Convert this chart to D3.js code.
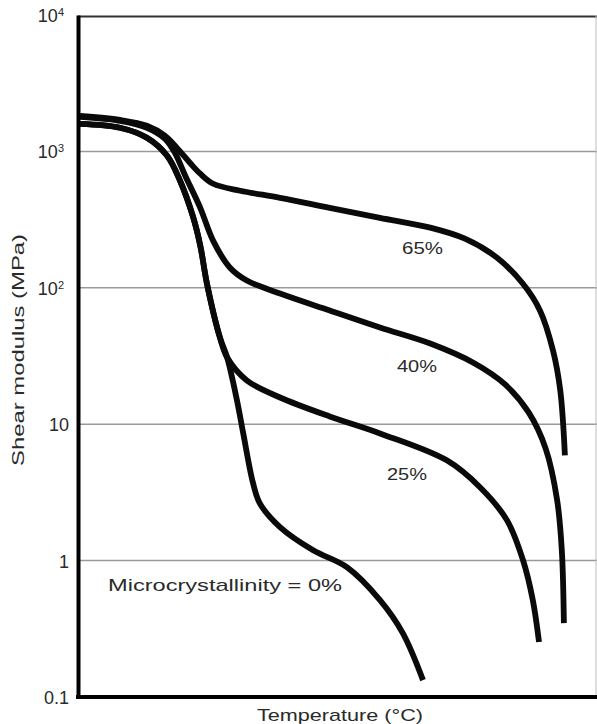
<!DOCTYPE html>
<html>
<head>
<meta charset="utf-8">
<script src="https://cdn.jsdelivr.net/npm/d3@7"></script>
<style>
  html, body { margin: 0; padding: 0; background: #fff; }
  svg { display: block; }
  text { font-family: "Liberation Sans", Arial, Helvetica, sans-serif; fill: #2a2a2a; }
</style>
</head>
<body>
<svg id="chart" width="597" height="724"></svg>
<script>
// ---- data (temperature in arbitrary units, shear modulus in MPa) ----
const seriesNames = ["65%", "40%", "25%", "Microcrystallinity = 0%"];

const temp65 = [0.4, 8.1, 13.3, 16.8, 19.1, 21.6, 23.6, 26.1, 31.3, 39.0, 48.6, 58.3, 68.0, 74.7, 80.9, 85.9, 89.2, 91.7, 93.1, 94.0];
const mod65  = [1820, 1700, 1540, 1300, 1060, 825, 686, 579, 515, 457, 386, 326, 276, 229, 166, 107, 68, 34.7, 17.7, 5.9];

const temp40 = [0.4, 8.1, 13.3, 16.8, 18.7, 20.7, 23.6, 26.1, 29.3, 32.6, 39.0, 48.6, 58.3, 68.0, 76.5, 82.5, 87.0, 90.3, 92.5, 93.4, 93.8];
const mod40  = [1790, 1675, 1490, 1237, 977, 663, 386, 221, 141, 113, 90.7, 68.1, 51.1, 39.0, 28.0, 19.5, 12.2, 6.6, 2.77, 1.19, 0.348];

const temp25 = [0.4, 8.1, 13.3, 17.2, 19.7, 22.2, 23.6, 24.9, 27.4, 28.8, 32.6, 39.0, 48.6, 58.3, 71.2, 77.6, 82.8, 85.9, 87.8, 89.0];
const mod25  = [1590, 1490, 1258, 929, 609, 332, 204, 107, 43.2, 30.8, 20.9, 15.7, 11.4, 8.56, 5.43, 3.45, 1.98, 1.01, 0.513, 0.253];

const temp0 = [0.4, 8.1, 13.3, 17.2, 19.7, 22.2, 23.6, 24.9, 27.4, 28.8, 30.7, 31.9, 33.8, 35.1, 39.0, 45.4, 51.9, 58.3, 62.7, 66.6];
const mod0  = [1590, 1490, 1258, 929, 609, 332, 204, 107, 43.2, 30.8, 14.9, 8.56, 3.69, 2.63, 1.76, 1.19, 0.895, 0.513, 0.294, 0.133];

const tickValues = [0.1, 1, 10, 100, 1000, 10000];
const tickBase   = ["0.1", "1", "10", "10", "10", "10"];
const tickExp    = ["", "", "", "2", "3", "4"];
const gridValues = [1, 10, 100, 1000];

const xTitle = "Temperature (°C)";
const yTitle = "Shear modulus (MPa)";

// ---- layout ----
const svg = d3.select("#chart");
const W = 597, H = 724;
svg.append("rect").attr("width", W).attr("height", H).attr("fill", "#fff");

const x = d3.scaleLinear().domain([0, 100]).range([78, 596]);
const y = d3.scaleLog().domain([0.1, 10000]).range([697, 15]);

// gridlines
svg.append("g").selectAll("line").data(gridValues).join("line")
  .attr("x1", 80).attr("x2", W)
  .attr("y1", d => y(d)).attr("y2", d => y(d))
  .attr("stroke", "#9a9a9a").attr("stroke-width", 1.5);

// top frame and right edge
svg.append("line").attr("x1", 78).attr("x2", W).attr("y1", y(10000) + 1.5).attr("y2", y(10000) + 1.5)
  .attr("stroke", "#333").attr("stroke-width", 2);
svg.append("line").attr("x1", 596).attr("x2", 596).attr("y1", y(10000)).attr("y2", 697)
  .attr("stroke", "#bdbdbd").attr("stroke-width", 1);

// curves
const series = [
  { name: seriesNames[0], t: temp65, g: mod65 },
  { name: seriesNames[1], t: temp40, g: mod40 },
  { name: seriesNames[2], t: temp25, g: mod25 },
  { name: seriesNames[3], t: temp0,  g: mod0 }
];
const line = d3.line()
  .x(d => x(d[0])).y(d => y(d[1]))
  .curve(d3.curveCatmullRom.alpha(0.5));

svg.append("g").selectAll("path").data(series).join("path")
  .attr("d", s => line(s.t.map((t, i) => [t, s.g[i]])))
  .attr("fill", "none").attr("stroke", "#0a0a0a")
  .attr("stroke-width", 5.8).attr("stroke-linecap", "butt").attr("stroke-linejoin", "round");

// axes
const yAxis = d3.axisLeft(y).tickValues(tickValues).tickSize(0).tickPadding(9).tickFormat("");
const gy = svg.append("g").attr("transform", "translate(78,0)").call(yAxis);
gy.select(".domain").attr("stroke", "#000").attr("stroke-width", 4);
gy.selectAll(".tick text").remove();
gy.selectAll(".tick").each(function(d, i) {
  const t = d3.select(this).append("text")
    .attr("x", i >= 3 ? -14 : -9).attr("dy", "0.36em")
    .attr("text-anchor", "end").style("font-size", "18px");
  t.append("tspan").text(tickBase[i]);
  if (tickExp[i]) {
    t.append("tspan").attr("dy", "-0.55em").style("font-size", "11px").text(tickExp[i]);
  }
});

const xAxis = d3.axisBottom(x).tickValues([]).tickSize(0);
const gx = svg.append("g").attr("transform", "translate(0,697)").call(xAxis);
gx.select(".domain").attr("stroke", "#000").attr("stroke-width", 4).attr("d", "M76,0H597");

// titles
svg.append("text").attr("x", 340).attr("y", 721).attr("text-anchor", "middle")
  .style("font-size", "17px").attr("textLength", 166).attr("lengthAdjust", "spacingAndGlyphs")
  .text(xTitle);
svg.append("text").attr("transform", "translate(24,350) rotate(-90)").attr("text-anchor", "middle")
  .style("font-size", "17px").attr("textLength", 232).attr("lengthAdjust", "spacingAndGlyphs")
  .text(yTitle);

// curve labels
const labelPos = [
  { x: 402, y: 254, w: 41 },
  { x: 397, y: 372, w: 40 },
  { x: 387, y: 480, w: 40 },
  { x: 108, y: 591, w: 234 }
];
svg.append("g").selectAll("text").data(series).join("text")
  .attr("x", (d, i) => labelPos[i].x).attr("y", (d, i) => labelPos[i].y)
  .attr("textLength", (d, i) => labelPos[i].w).attr("lengthAdjust", "spacingAndGlyphs")
  .style("font-size", "17px")
  .text(d => d.name);
</script>
</body>
</html>
